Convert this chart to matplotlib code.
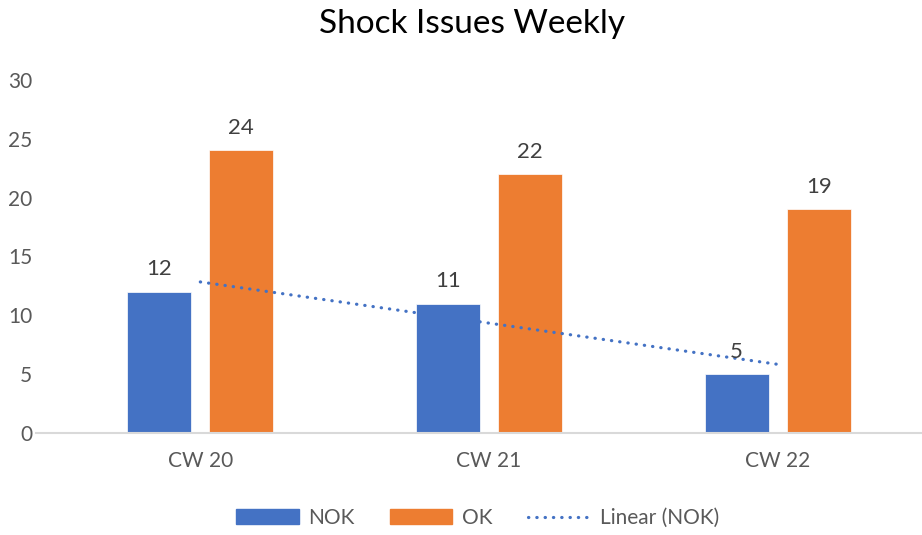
import numpy as np
from matplotlib import pyplot as plt
from matplotlib.lines import Line2D
from matplotlib.patches import Patch

weeks = ["CW 20", "CW 21", "CW 22"]
nok = [12, 11, 5]
ok = [24, 22, 19]
y_ticks = [0, 5, 10, 15, 20, 25, 30]

BLUE = "#4472C4"
ORANGE = "#ED7D31"
TREND_STYLE = dict(color=BLUE, linewidth=2.3, linestyle=(0, (0.1, 2.5)), dash_capstyle="round")


def main():
    plt.rcParams["font.family"] = ["Lato", "DejaVu Sans"]
    fig = plt.figure(figsize=(9.22, 5.35), dpi=100)
    ax = fig.add_axes([0.0607, 0.1907, 0.9393, 0.66])

    x = np.arange(len(weeks))
    width = 0.221
    offset = 0.142
    b1 = ax.bar(x - offset, nok, width, color=BLUE, edgecolor="white", linewidth=0.5, label="NOK")
    b2 = ax.bar(x + offset, ok, width, color=ORANGE, edgecolor="white", linewidth=0.5, label="OK")

    # linear trendline of NOK, fitted against category index like Excel does
    slope, intercept = np.polyfit(x + 1, nok, 1)
    trend = slope * (x + 1) + intercept
    ax.plot(x, trend, **TREND_STYLE)

    for bars in (b1, b2):
        for b in bars:
            ax.annotate(str(int(b.get_height())), (b.get_x() + b.get_width() / 2, b.get_height()),
                        xytext=(0, 9), textcoords="offset points", ha="center", va="bottom",
                        fontsize=16, color="#404040")

    ax.set_xlim(-0.5, 2.5)
    ax.set_ylim(0, 30)
    ax.set_yticks(y_ticks)
    ax.set_xticks(x)
    ax.set_xticklabels(weeks)
    ax.tick_params(axis="both", length=0, labelsize=15, labelcolor="#595959")
    ax.tick_params(axis="y", pad=17)
    ax.tick_params(axis="x", pad=13)
    for s in ax.spines.values():
        s.set_visible(False)
    ax.axhline(0, xmin=-0.023, xmax=1, color="#d9d9d9", linewidth=1.5, clip_on=False)

    fig.text(0.512, 0.955, "Shock Issues Weekly", ha="center", va="center", fontsize=24, color="#000000")

    handles = [
        Patch(color=BLUE, label="NOK"),
        Patch(color=ORANGE, label="OK"),
        Line2D([0], [0], label="Linear (NOK)", **TREND_STYLE),
    ]
    fig.legend(handles=handles, loc="center", bbox_to_anchor=(0.518, 0.032), ncol=3, frameon=False,
               fontsize=15, labelcolor="#595959", handlelength=3.0, handleheight=0.7,
               columnspacing=1.7, handletextpad=0.45)

    fig.savefig("out.png", dpi=100)


if __name__ == "__main__":
    main()
